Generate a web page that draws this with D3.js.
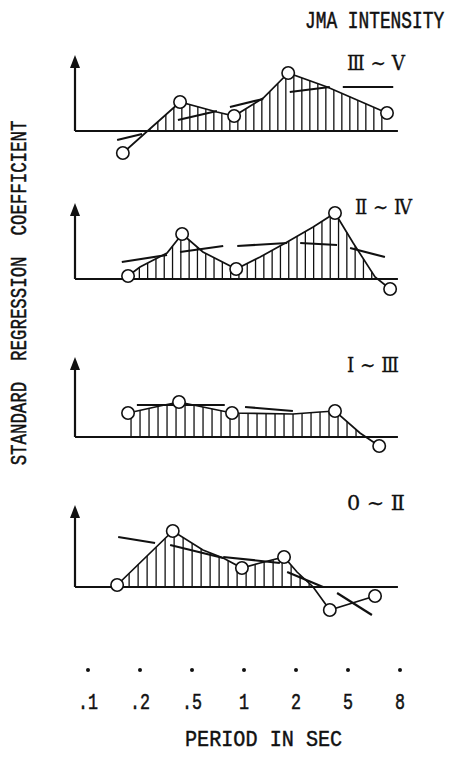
<!DOCTYPE html>
<html>
<head>
<meta charset="utf-8">
<script src="https://cdn.jsdelivr.net/npm/d3@7"></script>
<style>
  body { margin: 0; background: #fff; }
</style>
</head>
<body>
<div id="chart"></div>
<script>
// Period axis: ticks are evenly spaced, so positions below are in "tick index" units
const periodLabels = [".1", ".2", ".5", "1", "2", "5", "8"];
const rangeLabels = ["\u2162 \u223C \u2164", "\u2161 \u223C \u2163", "\u2160 \u223C \u2162", "0 \u223C \u2161"];

// polyline vertices of each panel (position, coefficient)
const curvePos = [
    [0.67, 1.77, 2.48, 2.81, 3.37, 3.85, 4.60, 5.75],
    [0.77, 1.00, 1.52, 1.81, 2.21, 2.85, 3.31, 3.83, 4.33, 4.75, 5.10, 5.52, 5.81],
    [0.77, 1.38, 1.75, 2.21, 2.77, 3.94, 4.46, 4.75, 5.23, 5.60],
    [0.56, 1.63, 2.21, 2.60, 2.96, 3.31, 3.77, 4.02, 4.33, 4.65, 5.52]
];
const curveVal = [
    [-0.22, 0.29, 0.19, 0.15, 0.33, 0.58, 0.44, 0.18],
    [0.03, 0.12, 0.26, 0.45, 0.27, 0.10, 0.22, 0.37, 0.52, 0.66, 0.36, 0.02, -0.10],
    [0.24, 0.31, 0.35, 0.30, 0.24, 0.23, 0.25, 0.26, 0.04, -0.09],
    [0.02, 0.56, 0.37, 0.29, 0.19, 0.24, 0.30, 0.15, 0.00, -0.23, -0.09]
];
// which vertices carry an open circle
const circleIdx = [
    [0, 1, 3, 5, 7],
    [0, 3, 5, 9, 12],
    [0, 2, 4, 7, 9],
    [0, 1, 4, 6, 9, 10]
];
// short straight segments: [x0, x1] and [v0, v1]
const segPos = [
    [[0.56, 1.04], [1.73, 2.48], [2.73, 3.37], [3.88, 4.65], [4.90, 5.87]],
    [[0.65, 1.52], [1.77, 2.60], [2.87, 3.83], [4.08, 4.79], [5.04, 5.71]],
    [[0.94, 2.63], [3.02, 3.94]],
    [[0.58, 1.29], [1.58, 2.60], [2.60, 3.69], [3.83, 4.52], [4.79, 5.46]]
];
const segVal = [
    [[-0.09, -0.03], [0.11, 0.20], [0.24, 0.32], [0.39, 0.44], [0.44, 0.44]],
    [[0.17, 0.24], [0.27, 0.33], [0.33, 0.36], [0.36, 0.34], [0.31, 0.22]],
    [[0.32, 0.32], [0.30, 0.26]],
    [[0.50, 0.44], [0.42, 0.29], [0.30, 0.24], [0.15, 0.00], [-0.06, -0.28]]
];

const W = 456, H = 761;
const panelBase = [131, 279, 437, 587];
const axisTop = [0.76, 0.76, 0.80, 0.82];
const hatchStep = [8, 8.3, 9, 9];
const labelPos = [[347, 70, 58], [355, 214, 57], [347, 372, 52], [347, 510, 58]];

const svg = d3.select('#chart').append('svg')
    .attr('width', W)
    .attr('height', H)
    .style('font-family', '"Liberation Mono", monospace');

const x = d3.scaleLinear().domain([0, 6]).range([88, 400]);

// typewriter look: monospace at the scan's pitch, stretched up to its cap height
function typeText(px, py, str, pitch, capH, rot) {
    const size = pitch / 0.6;
    const sy = capH / (0.58 * size);
    return svg.append('text')
        .attr('transform', `translate(${px},${py})${rot ? ' rotate(-90)' : ''} scale(1,${sy.toFixed(3)})`)
        .style('font-size', size.toFixed(2) + 'px')
        .attr('fill', '#111')
        .attr('stroke', '#111')
        .attr('stroke-width', 0.4)
        .text(str);
}

curvePos.forEach((pos, p) => {
    const y = d3.scaleLinear().domain([0, 1]).range([panelBase[p], panelBase[p] - 100]);
    const g = svg.append('g');
    const pts = pos.map((d, i) => [d, curveVal[p][i]]);

    // hatching under the positive part of the curve
    const valAt = t => {
        for (let i = 0; i < pts.length - 1; i++) {
            if (t >= pts[i][0] && t <= pts[i + 1][0]) {
                const f = (t - pts[i][0]) / (pts[i + 1][0] - pts[i][0]);
                return pts[i][1] + f * (pts[i + 1][1] - pts[i][1]);
            }
        }
        return 0;
    };
    const hatch = d3.range(x(pos[0]) + 3, x(pos[pos.length - 1]), hatchStep[p])
        .map(px => x.invert(px))
        .filter(t => valAt(t) > 0.02);
    g.selectAll('.hatch').data(hatch).join('line')
        .attr('x1', d => x(d)).attr('x2', d => x(d))
        .attr('y1', y(0)).attr('y2', d => y(valAt(d)))
        .attr('stroke', '#111').attr('stroke-width', 1.3);

    // axes
    g.append('line')
        .attr('x1', x(-0.25)).attr('x2', x(5.96))
        .attr('y1', y(0)).attr('y2', y(0))
        .attr('stroke', '#111').attr('stroke-width', 2.2);
    g.append('line')
        .attr('x1', x(-0.25)).attr('x2', x(-0.25))
        .attr('y1', y(0)).attr('y2', y(axisTop[p]) + 6)
        .attr('stroke', '#111').attr('stroke-width', 2.2);
    const ax = x(-0.25), at = y(axisTop[p]);
    g.append('path')
        .attr('d', `M${ax},${at} L${ax - 5},${at + 13} L${ax + 5},${at + 13} Z`)
        .attr('fill', '#111');

    // curve
    g.append('path')
        .datum(pts)
        .attr('d', d3.line().x(d => x(d[0])).y(d => y(d[1])))
        .attr('fill', 'none')
        .attr('stroke', '#111')
        .attr('stroke-width', 1.7);

    // short segments
    g.selectAll('.seg').data(segPos[p]).join('line')
        .attr('x1', d => x(d[0])).attr('x2', d => x(d[1]))
        .attr('y1', (d, i) => y(segVal[p][i][0]))
        .attr('y2', (d, i) => y(segVal[p][i][1]))
        .attr('stroke', '#111').attr('stroke-width', 2.2);

    // open circles
    g.selectAll('.dot').data(circleIdx[p]).join('circle')
        .attr('cx', d => x(pts[d][0]))
        .attr('cy', d => y(pts[d][1]))
        .attr('r', 6.2)
        .attr('fill', '#fff')
        .attr('stroke', '#111')
        .attr('stroke-width', 1.6);

    // intensity range label
    g.append('text')
        .attr('x', labelPos[p][0]).attr('y', labelPos[p][1])
        .style('font-family', '"DejaVu Serif", serif')
        .style('font-size', '20px')
        .attr('textLength', labelPos[p][2])
        .attr('lengthAdjust', 'spacingAndGlyphs')
        .attr('fill', '#111')
        .attr('stroke', '#111')
        .attr('stroke-width', 0.3)
        .text(rangeLabels[p]);
});

// period ticks
svg.selectAll('.tdot').data(periodLabels).join('circle')
    .attr('cx', (d, i) => x(i)).attr('cy', 670).attr('r', 2).attr('fill', '#111');
periodLabels.forEach((d, i) => {
    typeText(x(i), 709, d, 10, 13).attr('text-anchor', 'middle');
});

typeText(185, 746, 'PERIOD IN SEC', 12.1, 13);
typeText(305, 28, 'JMA INTENSITY', 10.7, 14);
typeText(26, 293, 'STANDARD\u00A0 REGRESSION\u00A0 COEFFICIENT', 10.45, 13, true)
    .attr('text-anchor', 'middle');
</script>
</body>
</html>
